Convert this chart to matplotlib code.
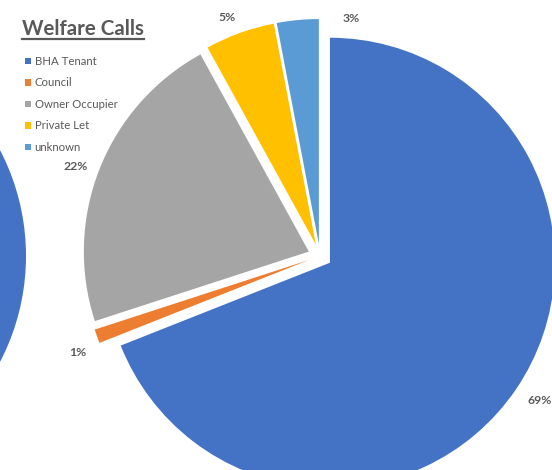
import numpy as np
import matplotlib.pyplot as plt
from matplotlib.patches import Circle
from matplotlib.lines import Line2D

plt.rcParams['font.family'] = ['Lato', 'DejaVu Sans']

# Welfare calls by tenure (%)
categories = ['BHA Tenant', 'Council', 'Owner Occupier', 'Private Let', 'unknown']
shares = [69, 1, 22, 5, 3]
colors = ['#4472C4', '#ED7D31', '#A5A5A5', '#FFC000', '#5B9BD5']

W, H = 552, 470
fig = plt.figure(figsize=(W / 100, H / 100), dpi=100)
ax = fig.add_axes([0, 0, 1, 1])

# neighbouring chart's pie, mostly off the left edge
ax.add_patch(Circle((-203, H - 256), 229, color='#4472C4', lw=0))

R = 225
# explode is in data units here (pixels), not a fraction of the radius
wedges, texts, autotexts = ax.pie(
    shares, colors=colors, startangle=90, counterclock=False,
    explode=[12] * len(shares), radius=R, center=(320, H - 256),
    autopct='%1.0f%%', pctdistance=1.11, frame=True,
    wedgeprops=dict(linewidth=0),
    textprops=dict(color='#595959', fontsize=8.8, fontweight='bold'))

# small nudges so labels sit where Excel put them
nudges = [(3, 3), (4, -8), (-1, -7), (-4, -8), (2, 2)]
for t, (dx, dy) in zip(autotexts, nudges):
    x, y = t.get_position()
    t.set_position((x + dx, y + dy))
# the 3% label sits to the right of its slice
autotexts[4].set_position((351, H - 18))

ax.set_xlim(0, W)
ax.set_ylim(0, H)
ax.set_aspect('equal')
ax.axis('off')

title = fig.text(22 / W, 1 - 29 / H, 'Welfare Calls', fontsize=14.8, fontweight='bold',
                 color='#595959', ha='left', va='center')
fig.canvas.draw()
bb = title.get_window_extent()
fig.add_artist(Line2D([bb.x0 / W, bb.x1 / W], [1 - 39 / H] * 2, color='#595959', lw=1.6,
                      transform=fig.transFigure))

fig.legend(wedges, categories, loc='upper left', bbox_to_anchor=(25 / W, 1 - 56 / H),
           frameon=False, fontsize=8.2, labelcolor='#595959', handlelength=0.5,
           handleheight=0.5, handletextpad=0.35, labelspacing=0.92, borderpad=0,
           borderaxespad=0)

fig.savefig('out.png', dpi=100)
